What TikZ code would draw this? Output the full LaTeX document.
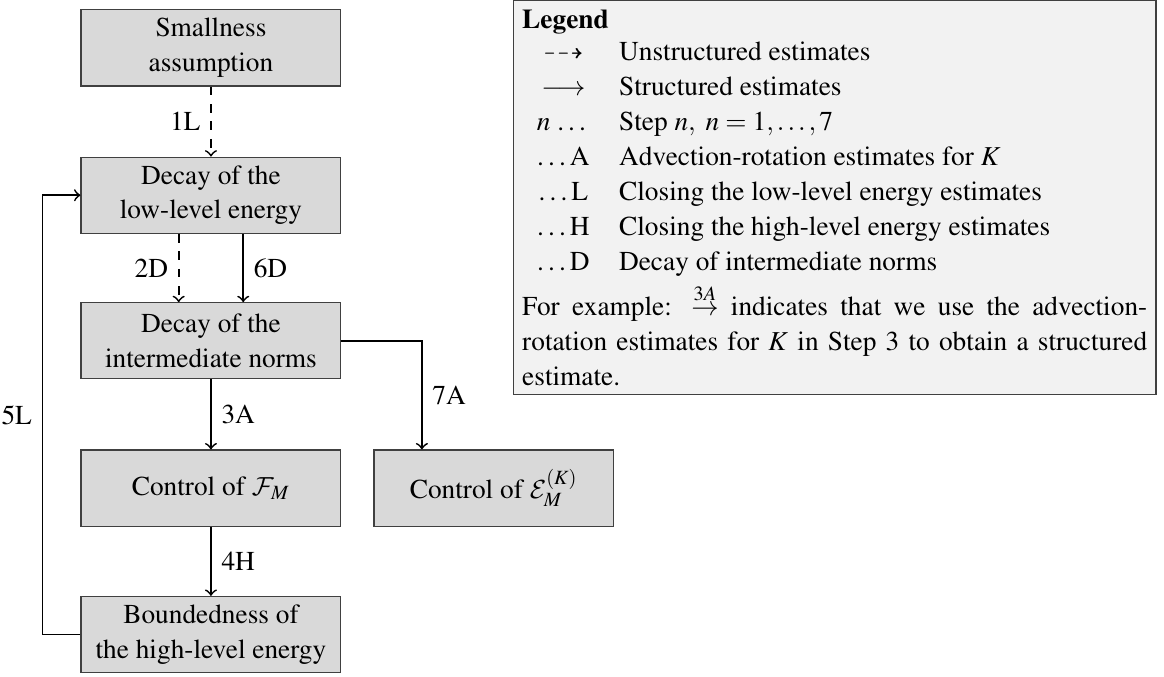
\documentclass[tikz,border=0pt]{standalone}
\usepackage[T1]{fontenc}
\usepackage{amssymb}
\usepackage{mathptmx}
\DeclareMathAlphabet{\mathcal}{OMS}{cmsy}{m}{n}
\usetikzlibrary{arrows}
\setlength{\tabcolsep}{5pt}

\begin{document}
\begin{tikzpicture}[
    font=\fontsize{9.4}{12}\selectfont,
    box/.style={draw=black!75, fill=black!15, align=center,
      minimum width=3.14cm, minimum height=0.92cm, inner sep=2pt},
    legendbox/.style={draw=black!75, fill=black!5, inner sep=3pt,
      text width=7.78cm-6.4pt, align=justify},
    structured/.style={->, semithick},
    unstructured/.style={->, semithick, dashed}
  ]
  \useasboundingbox (0, 0) rectangle (14.07, 8.18);

  % steps of the argument
  \node [box] (small) at (2.55, 7.60) {Smallness\\assumption};
  \node [box] (low) at (2.55, 5.82) {Decay of the\\low-level energy};
  \node [box] (inter) at (2.55, 4.06) {Decay of the\\intermediate norms};
  \node [box] (ctrlF) at (2.55, 2.28) {Control of $\mathcal{F}_M$};
  \node [box] (high) at (2.55, 0.51) {Boundedness of\\the high-level energy};
  \node [box, minimum width=2.9cm] (ctrlE) at (5.97, 2.28) {Control of $\mathcal{E}_M^{(K)}$};

  % estimates
  \draw [unstructured] (small) -- node [left] {1L} (low);
  \draw [unstructured] ([xshift=-0.39cm]low.south) -- node [left] {2D} ([xshift=-0.39cm]inter.north);
  \draw [structured] ([xshift=0.39cm]low.south) -- node [right] {6D} ([xshift=0.39cm]inter.north);
  \draw [structured] (inter) -- node [right] {3A} (ctrlF);
  \draw [structured] (ctrlF) -- node [right] {4H} (high);
  \draw [structured] (high.west) -- ++(-0.46, 0) |- node [pos=0.25, left] {5L} (low.west);
  \draw [structured] (inter.east) -| node [pos=0.75, right] {7A} ([xshift=-0.87cm]ctrlE.north);

  % legend
  \node [legendbox, anchor=north west] (legend) at (6.20, 8.18) {%
    \textbf{Legend}\\
    \begin{tabular}{cl}
      $\dashrightarrow$ & Unstructured estimates\\
      $\longrightarrow$ & Structured estimates\\
      $n$ \ldots & Step $n,\ n=1,\ldots,7$\\
      \ldots A & Advection-rotation estimates for $K$\\
      \ldots L & Closing the low-level energy estimates\\
      \ldots H & Closing the high-level energy estimates\\
      \ldots D & Decay of intermediate norms
    \end{tabular}\\
    For example: $\stackrel{3A}{\rightarrow}$ indicates that we use the advection-rotation estimates for $K$ in Step 3 to obtain a structured estimate.};
\end{tikzpicture}
\end{document}
